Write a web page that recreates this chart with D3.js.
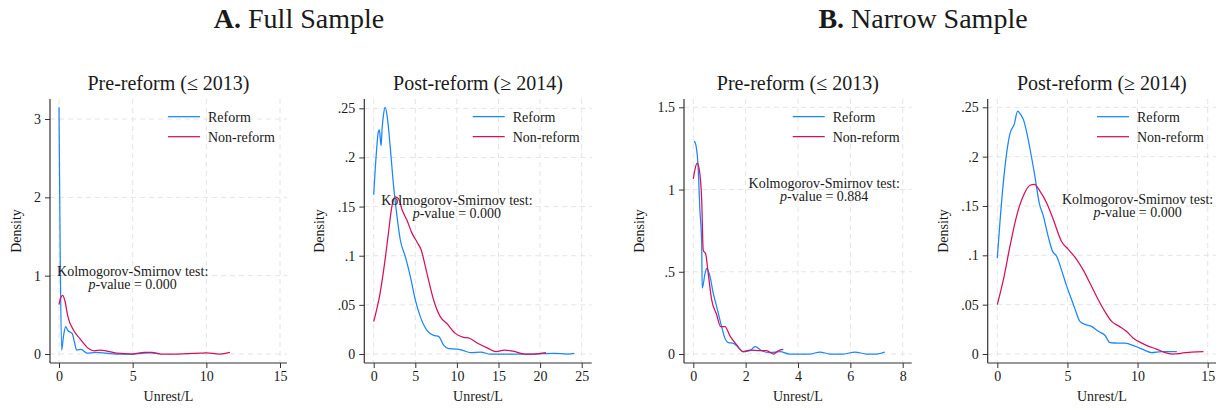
<!DOCTYPE html>
<html>
<head>
<meta charset="utf-8">
<script src="https://cdn.jsdelivr.net/npm/d3@7"></script>
<style>
  body { margin: 0; background: #fff; }
  svg { display: block; }
  text { font-family: "Liberation Serif", "Times New Roman", serif; fill: #1a1a1a; }
</style>
</head>
<body>
<svg id="chart" width="1225" height="410" font-family="Liberation Serif, serif"></svg>
<script>
// ---------------------------------------------------------------------------
// DATA
// ---------------------------------------------------------------------------
var groupTitles = [["A.", " Full Sample"], ["B.", " Narrow Sample"]];
var panelTitles = ["Pre-reform (\u2264 2013)", "Post-reform (\u2265 2014)", "Pre-reform (\u2264 2013)", "Post-reform (\u2265 2014)"];
var seriesNames = ["Reform", "Non-reform"];
var ksPValues = ["0.000", "0.000", "0.884", "0.000"];
var ksAnchors = [[5, 1.0], [10, 0.152], [5, 1.01], [10, 0.152]];

var xTicks = [[0, 5, 10, 15], [0, 5, 10, 15, 20, 25], [0, 2, 4, 6, 8], [0, 5, 10, 15]];
var yTicks = [[0, 1, 2, 3], [0, .05, .1, .15, .2, .25], [0, .5, 1, 1.5], [0, .05, .1, .15, .2, .25]];

var fullPreReform = [[0, 3.15], [0.08, 1.3], [0.18, 0.05], [0.3, 0.22], [0.45, 0.35], [0.6, 0.3], [0.75, 0.28],
  [0.9, 0.26], [1.05, 0.15], [1.2, 0.05], [1.5, 0.06], [1.9, 0.01], [2.5, 0.02], [3.2, 0.01], [3.9, 0.0],
  [5.0, 0.0], [5.7, 0.01], [6.2, 0.015], [6.8, 0.0]];
var fullPreNonReform = [[0, 0.63], [0.12, 0.72], [0.25, 0.75], [0.4, 0.68], [0.6, 0.48], [1.0, 0.3], [1.4, 0.2],
  [2.0, 0.07], [2.4, 0.04], [2.8, 0.05], [3.2, 0.04], [3.9, 0.01], [5.0, 0.0], [5.8, 0.02], [6.3, 0.02],
  [6.9, 0.0], [8.0, 0.0], [9.6, 0.01], [10.0, 0.015], [10.9, 0.0], [11.6, 0.02]];

var fullPostReform = [[0, 0.162], [0.28, 0.2], [0.56, 0.226], [0.69, 0.228], [0.8, 0.218], [0.89, 0.212],
  [1.0, 0.228], [1.17, 0.243], [1.37, 0.251], [1.65, 0.24], [1.98, 0.211], [2.4, 0.17], [2.8, 0.14],
  [3.2, 0.116], [3.8, 0.099], [4.4, 0.079], [5.0, 0.055], [5.6, 0.038], [6.4, 0.024], [7.2, 0.019],
  [7.8, 0.018], [8.4, 0.009], [9.0, 0.0054], [10.0, 0.005], [10.8, 0.0034], [11.6, 0.0014], [12.9, 0.002],
  [13.9, 0.0], [19.3, 0.0], [21.7, 0.0007], [23.3, 0.0], [24.1, 0.0007]];
var fullPostNonReform = [[0, 0.033], [0.77, 0.062], [1.37, 0.096], [1.77, 0.123], [2.18, 0.15], [2.58, 0.16],
  [2.98, 0.158], [3.4, 0.147], [4.0, 0.136], [4.6, 0.123], [5.2, 0.114], [5.7, 0.106], [6.4, 0.082],
  [7.2, 0.055], [8.0, 0.038], [8.8, 0.031], [9.8, 0.021], [10.8, 0.017], [11.5, 0.016], [12.5, 0.011],
  [13.7, 0.006], [14.7, 0.0024], [15.7, 0.004], [16.9, 0.0027], [18.1, 0.0], [19.3, 0.0], [20.7, 0.0014]];

var narrowPreReform = [[0.03, 1.295], [0.1, 1.27], [0.19, 1.12], [0.25, 0.88], [0.32, 0.675], [0.34, 0.4],
  [0.45, 0.49], [0.51, 0.52], [0.64, 0.47], [0.76, 0.37], [0.89, 0.29], [1.08, 0.167], [1.21, 0.095],
  [1.34, 0.069], [1.53, 0.065], [1.72, 0.04], [1.91, 0.014], [2.17, 0.02], [2.36, 0.045], [2.61, 0.02],
  [2.93, 0.008], [3.31, 0.014], [3.69, 0.0], [4.46, 0.0], [4.84, 0.012], [5.22, 0.0], [5.73, 0.0],
  [6.18, 0.012], [6.62, 0.0], [7.0, 0.0], [7.32, 0.012]];
var narrowPreNonReform = [[0, 1.065], [0.06, 1.12], [0.15, 1.16], [0.23, 1.12], [0.32, 0.94], [0.38, 0.63],
  [0.47, 0.61], [0.57, 0.49], [0.7, 0.33], [0.89, 0.24], [1.04, 0.167], [1.21, 0.167], [1.4, 0.11],
  [1.66, 0.055], [1.89, 0.014], [2.17, 0.024], [2.55, 0.02], [2.8, 0.02], [3.06, 0.0], [3.25, 0.02],
  [3.44, 0.028]];

var narrowPostReform = [[0, 0.097], [0.36, 0.163], [0.67, 0.204], [0.9, 0.223], [1.21, 0.233], [1.45, 0.246],
  [1.69, 0.242], [1.85, 0.238], [2.09, 0.225], [2.33, 0.208], [2.68, 0.18], [2.99, 0.153], [3.28, 0.14],
  [3.63, 0.119], [3.94, 0.104], [4.23, 0.099], [4.58, 0.085], [4.94, 0.069], [5.3, 0.055], [5.53, 0.046],
  [5.89, 0.033], [6.25, 0.03], [6.72, 0.028], [7.2, 0.023], [7.67, 0.019], [8.03, 0.0115], [8.6, 0.011],
  [9.1, 0.011], [9.8, 0.008], [10.5, 0.004], [11.0, 0.0014], [11.7, 0.0024], [12.8, 0.0024]];
var narrowPostNonReform = [[0, 0.05], [0.43, 0.075], [0.9, 0.109], [1.38, 0.14], [1.85, 0.16], [2.33, 0.171],
  [2.64, 0.172], [3.04, 0.165], [3.52, 0.153], [4.0, 0.136], [4.58, 0.114], [5.06, 0.106], [5.65, 0.096],
  [6.13, 0.085], [6.6, 0.072], [7.2, 0.055], [7.67, 0.043], [8.15, 0.033], [8.7, 0.028], [9.2, 0.023],
  [9.7, 0.016], [10.3, 0.011], [10.76, 0.008], [11.35, 0.005], [11.95, 0.0014], [12.5, 0.0], [13.1, 0.0007],
  [13.85, 0.002], [14.7, 0.0024]];

var panelSeries = [
  [fullPreReform, fullPreNonReform],
  [fullPostReform, fullPostNonReform],
  [narrowPreReform, narrowPreNonReform],
  [narrowPostReform, narrowPostNonReform]
];

// ---------------------------------------------------------------------------
// LAYOUT
// ---------------------------------------------------------------------------
var colors = ["#1a85ff", "#d41159"];
var serif = "Liberation Serif, Times New Roman, serif";
var boxTop = 99, boxBottom = 363;
var panelLayout = [
  { left: 50,    right: 287,   xr: [59, 280],      yr: [354, 119] },
  { left: 364.3, right: 591.7, xr: [373.7, 581.7], yr: [354, 108.3] },
  { left: 684,   right: 911.7, xr: [693.3, 902.7], yr: [354, 107.3] },
  { left: 987.7, right: 1216,  xr: [997.3, 1207.7], yr: [354, 107.3] }
];
var groupCenters = [299, 923];

var svg = d3.select("#chart");
svg.append("rect").attr("width", 1225).attr("height", 410).attr("fill", "#fff");

// Stata style labels: .05 instead of 0.05
function stataFmt(v) {
  var s = d3.format("~g")(v);
  return s.replace(/^0\./, ".");
}

// Group titles
groupTitles.forEach(function(t, i) {
  var txt = svg.append("text")
    .attr("x", groupCenters[i]).attr("y", 28)
    .attr("text-anchor", "middle")
    .attr("font-family", serif)
    .attr("font-size", 28);
  txt.append("tspan").attr("font-weight", "bold").text(t[0]);
  txt.append("tspan").text(t[1]);
});

panelLayout.forEach(function(p, i) {
  var g = svg.append("g").attr("class", "panel").attr("font-family", serif);
  var xt = xTicks[i], yt = yTicks[i];
  var x = d3.scaleLinear().domain([xt[0], xt[xt.length - 1]]).range(p.xr);
  var y = d3.scaleLinear().domain([yt[0], yt[yt.length - 1]]).range(p.yr);

  // grid
  g.selectAll(".vgrid").data(xt).enter().append("line")
    .attr("x1", function(d) { return x(d); }).attr("x2", function(d) { return x(d); })
    .attr("y1", boxTop).attr("y2", boxBottom)
    .attr("stroke", "#e4e4e4").attr("stroke-width", 1).attr("stroke-dasharray", "5,4");
  g.selectAll(".hgrid").data(yt).enter().append("line")
    .attr("x1", p.left).attr("x2", p.right)
    .attr("y1", function(d) { return y(d); }).attr("y2", function(d) { return y(d); })
    .attr("stroke", "#e4e4e4").attr("stroke-width", 1).attr("stroke-dasharray", "5,4");

  // axes
  var xAxis = d3.axisBottom(x).tickValues(xt).tickSize(5).tickPadding(3).tickFormat(stataFmt);
  var yAxis = d3.axisLeft(y).tickValues(yt).tickSize(5).tickPadding(4).tickFormat(stataFmt);
  var gx = g.append("g").attr("transform", "translate(0," + boxBottom + ")").call(xAxis);
  var gy = g.append("g").attr("transform", "translate(" + p.left + ",0)").call(yAxis);
  [gx, gy].forEach(function(ax) {
    ax.attr("font-family", serif).attr("font-size", 14);
    ax.select(".domain").remove();
    ax.selectAll(".tick line").attr("stroke", "#333").attr("stroke-width", 1);
    ax.selectAll(".tick text").attr("fill", "#1a1a1a");
  });
  g.append("line").attr("x1", p.left).attr("x2", p.right).attr("y1", boxBottom).attr("y2", boxBottom)
    .attr("stroke", "#333").attr("stroke-width", 1.2);
  g.append("line").attr("x1", p.left).attr("x2", p.left).attr("y1", boxTop).attr("y2", boxBottom)
    .attr("stroke", "#333").attr("stroke-width", 1.2);

  // axis titles
  var labelLeft = d3.min(gy.selectAll(".tick text").nodes(), function(n) { return n.getBBox().x; }) + p.left;
  g.append("text")
    .attr("transform", "translate(" + (labelLeft - 18) + "," + ((boxTop + boxBottom) / 2) + ") rotate(-90)")
    .attr("text-anchor", "middle").attr("dominant-baseline", "central")
    .attr("font-size", 14).text("Density");
  g.append("text")
    .attr("x", (p.left + p.right) / 2).attr("y", 401)
    .attr("text-anchor", "middle").attr("font-size", 14).text("Unrest/L");

  // panel title
  g.append("text")
    .attr("x", (p.left + p.right) / 2).attr("y", 90)
    .attr("text-anchor", "middle").attr("font-size", 20).text(panelTitles[i]);

  // density curves
  var line = d3.line()
    .x(function(d) { return x(d[0]); })
    .y(function(d) { return y(d[1]); })
    .curve(d3.curveMonotoneX);
  panelSeries[i].forEach(function(s, k) {
    g.append("path").datum(s).attr("d", line)
      .attr("fill", "none").attr("stroke", colors[k]).attr("stroke-width", 1.25);
  });

  // legend
  seriesNames.forEach(function(name, k) {
    var ly = 116.7 + k * 20;
    g.append("line").attr("x1", p.right - 119).attr("x2", p.right - 87)
      .attr("y1", ly).attr("y2", ly).attr("stroke", colors[k]).attr("stroke-width", 1.25);
    g.append("text").attr("x", p.right - 79).attr("y", ly + 5)
      .attr("font-size", 14).text(name);
  });

  // KS annotation
  var ax = x(ksAnchors[i][0]), ay = y(ksAnchors[i][1]);
  g.append("text").attr("x", ax).attr("y", ay).attr("text-anchor", "middle")
    .attr("font-size", 14).text("Kolmogorov-Smirnov test:");
  var t2 = g.append("text").attr("x", ax).attr("y", ay + 13.4).attr("text-anchor", "middle")
    .attr("font-size", 14);
  t2.append("tspan").attr("font-style", "italic").text("p");
  t2.append("tspan").text("-value = " + ksPValues[i]);
});
</script>
</body>
</html>
